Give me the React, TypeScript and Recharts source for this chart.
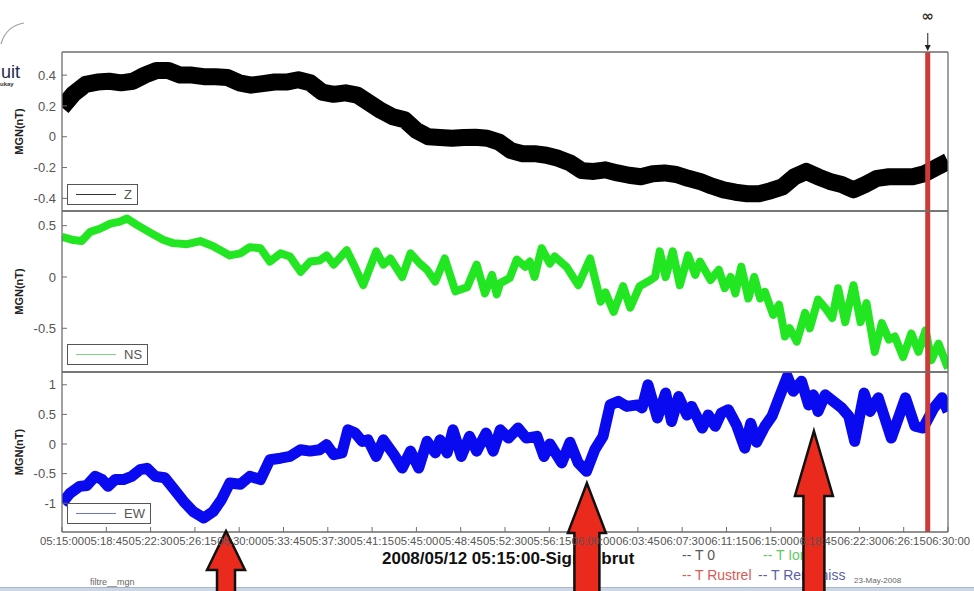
import { Legend, Line, LineChart, ReferenceDot, ReferenceLine, XAxis, YAxis } from "recharts";

// seconds after 05:15:00
const START_SECONDS = 5 * 3600 + 15 * 60;
const TIME_TICKS = [
	0, 225, 450, 675, 900, 1125, 1350, 1575, 1800, 2025, 2250, 2475, 2700, 2925, 3150, 3375, 3600, 3825,
	4050, 4275, 4500,
];

// Z, one reading per minute
const Z_VALUES = [
	0.19, 0.28, 0.34, 0.355, 0.36, 0.35, 0.36, 0.4, 0.43, 0.43, 0.4, 0.4, 0.39, 0.39, 0.385, 0.35, 0.335,
	0.345, 0.355, 0.355, 0.37, 0.35, 0.29, 0.275, 0.285, 0.27, 0.22, 0.17, 0.13, 0.11, 0.04, 0.0, -0.005,
	-0.01, -0.005, -0.003, -0.01, -0.035, -0.09, -0.11, -0.11, -0.12, -0.14, -0.17, -0.22, -0.225, -0.215,
	-0.235, -0.25, -0.26, -0.24, -0.235, -0.245, -0.27, -0.29, -0.32, -0.345, -0.36, -0.37, -0.37, -0.35,
	-0.325, -0.26, -0.225, -0.26, -0.29, -0.31, -0.345, -0.31, -0.27, -0.26, -0.26, -0.26, -0.24, -0.2,
	-0.16,
];

const NS_TIMES = [
	0, 58, 100, 144, 192, 246, 294, 330, 378, 450, 516, 564, 636, 702, 768, 852, 906, 954, 1008, 1056, 1110,
	1158, 1212, 1260, 1308, 1344, 1380, 1446, 1482, 1530, 1596, 1632, 1668, 1728, 1770, 1818, 1854, 1896,
	1944, 1998, 2058, 2106, 2148, 2184, 2208, 2226, 2274, 2310, 2352, 2376, 2400, 2436, 2478, 2502, 2562,
	2622, 2682, 2736, 2760, 2802, 2850, 2886, 2934, 2976, 3012, 3036, 3066, 3102, 3138, 3180, 3216, 3240,
	3294, 3336, 3366, 3396, 3420, 3450, 3486, 3516, 3546, 3570, 3612, 3642, 3672, 3696, 3732, 3774, 3798,
	3840, 3876, 3912, 3942, 3978, 4020, 4056, 4086, 4128, 4164, 4200, 4230, 4272, 4314, 4350, 4386, 4416,
	4452, 4500,
];
const NS_VALUES = [
	0.39, 0.36, 0.35, 0.44, 0.47, 0.52, 0.54, 0.57, 0.51, 0.43, 0.36, 0.33, 0.32, 0.35, 0.3, 0.21, 0.23,
	0.29, 0.28, 0.15, 0.23, 0.2, 0.05, 0.15, 0.16, 0.21, 0.12, 0.26, 0.12, -0.08, 0.25, 0.12, 0.18, 0.0,
	0.23, 0.13, 0.07, -0.045, 0.18, -0.14, -0.1, 0.12, -0.16, 0.02, -0.17, -0.06, -0.01, 0.17, 0.1, 0.15,
	0.0, 0.28, 0.13, 0.2, 0.1, -0.08, 0.18, -0.24, -0.15, -0.34, -0.09, -0.3, -0.09, -0.045, 0.0, 0.25, 0.0,
	0.25, -0.08, 0.21, 0.02, 0.15, -0.03, 0.07, -0.11, 0.0, -0.16, 0.1, -0.21, 0.0, -0.21, -0.145, -0.37,
	-0.27, -0.58, -0.5, -0.63, -0.35, -0.5, -0.22, -0.3, -0.4, -0.11, -0.44, -0.08, -0.44, -0.255, -0.73,
	-0.45, -0.61, -0.58, -0.78, -0.55, -0.73, -0.52, -0.81, -0.65, -0.89,
];

const EW_TIMES = [
	0, 41, 90, 126, 168, 204, 234, 270, 312, 354, 396, 432, 474, 522, 564, 618, 666, 720, 768, 810, 852, 906,
	954, 1008, 1056, 1110, 1158, 1212, 1260, 1308, 1344, 1380, 1422, 1452, 1488, 1524, 1554, 1596, 1632,
	1686, 1728, 1770, 1812, 1854, 1896, 1920, 1956, 1986, 2028, 2070, 2106, 2154, 2190, 2226, 2268, 2316,
	2358, 2412, 2448, 2478, 2538, 2580, 2622, 2664, 2706, 2748, 2784, 2826, 2868, 2922, 2946, 2976, 3024,
	3066, 3096, 3132, 3174, 3198, 3252, 3282, 3318, 3348, 3384, 3426, 3468, 3498, 3528, 3570, 3606, 3642,
	3684, 3714, 3756, 3792, 3816, 3840, 3876, 3918, 3960, 3996, 4026, 4074, 4104, 4146, 4212, 4284, 4332,
	4374, 4428, 4470, 4500,
];
const EW_VALUES = [
	-1.0, -0.83, -0.715, -0.7, -0.546, -0.6, -0.715, -0.6, -0.6, -0.546, -0.434, -0.41, -0.546, -0.57,
	-0.743, -0.97, -1.14, -1.25, -1.14, -0.94, -0.66, -0.68, -0.546, -0.6, -0.265, -0.24, -0.21, -0.096,
	-0.12, -0.096, -0.01, -0.18, -0.15, 0.24, 0.19, 0.045, 0.07, -0.21, 0.07, -0.18, -0.405, -0.12, -0.405,
	0.045, -0.15, 0.07, -0.15, 0.24, -0.21, 0.13, -0.12, 0.185, -0.12, 0.24, 0.1, 0.27, 0.1, 0.13, -0.21,
	0.0, -0.32, 0.03, -0.32, -0.46, -0.096, 0.13, 0.66, 0.72, 0.635, 0.66, 0.61, 1.0, 0.44, 0.86, 0.38, 0.8,
	0.49, 0.635, 0.27, 0.49, 0.3, 0.52, 0.58, 0.32, -0.07, 0.35, 0.03, 0.3, 0.47, 0.78, 1.14, 0.89, 1.06,
	0.66, 0.83, 0.55, 0.83, 0.72, 0.61, 0.47, 0.045, 0.86, 0.55, 0.78, 0.1, 0.78, 0.3, 0.27, 0.61, 0.78,
	0.55,
];

const Z_TICKS = [-0.4, -0.2, 0, 0.2, 0.4];
const NS_TICKS = [-0.5, 0, 0.5];
const EW_TICKS = [-1, -0.5, 0, 0.5, 1];

const EVENT_TIME = 4397;
// arrow tips, in time / EW value
const ARROW_TIMES = [833, 2666, 3819];
const ARROW_VALUES = [-1.47, -0.66, 0.22];
const ARROW_SIZES = [
	{ head: 39, half: 19, shaft: 9 },
	{ head: 50, half: 19, shaft: 12.5 },
	{ head: 65, half: 19, shaft: 10.5 },
];

const zData = Z_VALUES.map((v, i) => ({ t: i * 60, v }));
const nsData = NS_TIMES.map((t, i) => ({ t, v: NS_VALUES[i] }));
const ewData = EW_TIMES.map((t, i) => ({ t, v: EW_VALUES[i] }));

const FONT = '"Liberation Sans", Arial, Helvetica, sans-serif';
const AXIS = "#6e6e6e";
const RED = "#cc3b37";

function fmtTime(s: number) {
	const total = START_SECONDS + s;
	const h = Math.floor(total / 3600);
	const m = Math.floor((total % 3600) / 60);
	const sec = total % 60;
	return [h, m, sec].map((n) => String(n).padStart(2, "0")).join(":");
}

function yLabel(props: any) {
	const vb = props.viewBox || {};
	const cx = 19;
	const cy = vb.y + vb.height / 2;
	return (
		<text
			x={cx}
			y={cy}
			transform={`rotate(-90 ${cx} ${cy})`}
			textAnchor="middle"
			dominantBaseline="central"
			fontFamily={FONT}
			fontSize={11}
			fontWeight="bold"
			fill="#222"
		>
			MGN(nT)
		</text>
	);
}

function legendBox(label: string, color: string) {
	return () => (
		<div
			style={{
				border: "1.5px solid #555",
				background: "#fff",
				display: "flex",
				alignItems: "center",
				height: 19,
				padding: "0 5px 0 8px",
				fontFamily: FONT,
				fontSize: 13,
				color: "#555",
				whiteSpace: "nowrap",
			}}
		>
			<span
				style={{ display: "inline-block", width: 40, borderTop: `1.5px solid ${color}`, marginRight: 8 }}
			/>
			{label}
		</div>
	);
}

function eventMarker(props: any) {
	const vb = props.viewBox || {};
	const x = vb.x;
	return (
		<g>
			<text x={x} y={16} textAnchor="middle" dominantBaseline="central" fontFamily="DejaVu Sans" fontSize={15} fontWeight="bold" fill="#333">
				∞
			</text>
			<line x1={x} y1={33} x2={x} y2={46} stroke="#444" strokeWidth={1.2} />
			<path d={`M${x - 3},${45} L${x + 3},${45} L${x},${51} Z`} fill="#222" />
		</g>
	);
}

function arrowShape(size: { head: number; half: number; shaft: number }, bottom: number) {
	return (props: any) => {
		const { cx, cy } = props;
		const b = cy + size.head;
		const d = `M${cx},${cy} L${cx + size.half},${b} L${cx + size.shaft},${b} L${cx + size.shaft},${bottom} L${cx - size.shaft},${bottom} L${cx - size.shaft},${b} L${cx - size.half},${b} Z`;
		return <path d={d} fill="#ea2a1c" stroke="#111" strokeWidth={2.5} />;
	};
}

type PanelProps = {
	top: number;
	topAxis: number;
	plotH: number;
	bottomAxis: number;
	data: { t: number; v: number }[];
	color: string;
	width: number;
	name: string;
	swatch: string;
	domain: [number, number];
	ticks: number[];
	legendTop: number;
	timeLabels?: boolean;
	marker?: boolean;
	arrows?: boolean;
};

function Panel(p: PanelProps) {
	const height = p.topAxis + p.plotH + p.bottomAxis;
	return (
		<div style={{ position: "absolute", left: 0, top: p.top }}>
			<LineChart width={974} height={height} data={p.data} margin={{ top: 0, right: 0, bottom: 0, left: 0 }}>
				<XAxis
					xAxisId="b"
					dataKey="t"
					type="number"
					domain={[0, 4500]}
					ticks={TIME_TICKS}
					interval={0}
					allowDataOverflow
					height={p.bottomAxis}
					tickSize={-5}
					tickMargin={9.5}
					stroke={AXIS}
					axisLine={{ stroke: AXIS, strokeWidth: 1.3 }}
					tick={p.timeLabels ? { fontSize: 11.3, fill: "#555", fontFamily: FONT } : false}
					tickFormatter={fmtTime}
				/>
				<XAxis
					xAxisId="t"
					orientation="top"
					dataKey="t"
					type="number"
					domain={[0, 4500]}
					ticks={TIME_TICKS}
					interval={0}
					allowDataOverflow
					height={p.topAxis}
					tickSize={-5}
					stroke={AXIS}
					axisLine={{ stroke: AXIS, strokeWidth: 1.3 }}
					tick={false}
				/>
				<YAxis
					yAxisId="l"
					type="number"
					domain={p.domain}
					ticks={p.ticks}
					interval={0}
					allowDataOverflow
					width={62}
					tickSize={-5}
					tickMargin={11}
					stroke={AXIS}
					axisLine={{ stroke: AXIS, strokeWidth: 1.3 }}
					tick={{ fontSize: 13, fill: "#555", fontFamily: FONT }}
					tickFormatter={(v: number) => String(v)}
					label={{ content: yLabel }}
				/>
				<YAxis
					yAxisId="r"
					orientation="right"
					type="number"
					domain={p.domain}
					ticks={p.ticks}
					interval={0}
					allowDataOverflow
					width={26}
					tickSize={-5}
					stroke={AXIS}
					axisLine={{ stroke: AXIS, strokeWidth: 1.3 }}
					tick={false}
				/>
				<Line
					xAxisId="t"
					yAxisId="r"
					dataKey="v"
					stroke="none"
					dot={false}
					legendType="none"
					isAnimationActive={false}
				/>
				<Line
					xAxisId="b"
					yAxisId="l"
					dataKey="v"
					name={p.name}
					stroke={p.color}
					strokeWidth={p.width}
					strokeLinejoin="round"
					dot={false}
					isAnimationActive={false}
				/>
				<ReferenceLine
					xAxisId="b"
					yAxisId="l"
					x={EVENT_TIME}
					stroke={RED}
					strokeWidth={5}
					label={p.marker ? { content: eventMarker } : undefined}
				/>
				{p.arrows &&
					ARROW_TIMES.map((t, i) => (
						<ReferenceDot
							key={t}
							xAxisId="b"
							yAxisId="l"
							x={t}
							y={ARROW_VALUES[i]}
							ifOverflow="visible"
							shape={arrowShape(ARROW_SIZES[i], height + 4)}
						/>
					))}
				<Legend
					layout="vertical"
					align="center"
					verticalAlign="middle"
					content={legendBox(p.name, p.swatch)}
					wrapperStyle={{ left: 67, top: p.legendTop, width: "auto" }}
				/>
			</LineChart>
		</div>
	);
}

const note = (extra: React.CSSProperties): React.CSSProperties => ({
	position: "absolute",
	fontFamily: FONT,
	whiteSpace: "nowrap",
	lineHeight: 1,
	...extra,
});

export default function App() {
	return (
		<div style={{ position: "relative", width: 974, height: 591, background: "#fff", overflow: "hidden" }}>
			<style>{"body{margin:0}"}</style>
			<svg width={30} height={50} style={{ position: "absolute", left: 0, top: 20 }}>
				<path d="M1,24 Q6,6 24,3" fill="none" stroke="#9aa3ad" strokeWidth={1.2} />
			</svg>
			<div style={note({ left: 1, top: 63, fontSize: 18, color: "#1b2a4e" })}>uit</div>
			<div style={note({ left: 0, top: 81, fontSize: 6, color: "#333", fontWeight: "bold" })}>ukay</div>

			<div style={note({ left: 382, top: 550, fontSize: 17, fontWeight: "bold", color: "#111" })}>
				2008/05/12 05:15:00-Signal brut
			</div>
			<div style={note({ left: 682, top: 548, fontSize: 14, color: "#555" })}>-- T 0</div>
			<div style={note({ left: 763, top: 548, fontSize: 14, color: "#62c862" })}>-- T Ion</div>
			<div style={note({ left: 682, top: 568, fontSize: 14, color: "#d65a55" })}>-- T Rustrel</div>
			<div style={note({ left: 758, top: 568, fontSize: 14, color: "#5b5fa8" })}>-- T Remaniss</div>
			<div style={note({ left: 854, top: 577, fontSize: 8, color: "#666" })}>23-May-2008</div>
			<div style={note({ left: 90, top: 578, fontSize: 9, color: "#666" })}>filtre__mgn</div>
			<div
				style={{
					position: "absolute",
					left: 0,
					top: 587,
					width: 974,
					height: 4,
					background: "#ccd6e4",
					borderTop: "1px solid #a9b7cc",
				}}
			/>

			<Panel
				top={0}
				topAxis={52}
				plotH={159}
				bottomAxis={20}
				data={zData}
				color="#000"
				width={17}
				name="Z"
				swatch="#333"
				domain={[-0.482, 0.55]}
				ticks={Z_TICKS}
				legendTop={184}
				marker
			/>
			<Panel
				top={191}
				topAxis={20}
				plotH={161}
				bottomAxis={20}
				data={nsData}
				color="#22e622"
				width={8}
				name="NS"
				swatch="#7ed67e"
				domain={[-0.926, 0.643]}
				ticks={NS_TICKS}
				legendTop={153}
			/>
			<Panel
				top={352}
				topAxis={20}
				plotH={160}
				bottomAxis={59}
				data={ewData}
				color="#0a0af0"
				width={11}
				name="EW"
				swatch="#6f74c4"
				domain={[-1.486, 1.216]}
				ticks={EW_TICKS}
				legendTop={151}
				timeLabels
				arrows
			/>
		</div>
	);
}
